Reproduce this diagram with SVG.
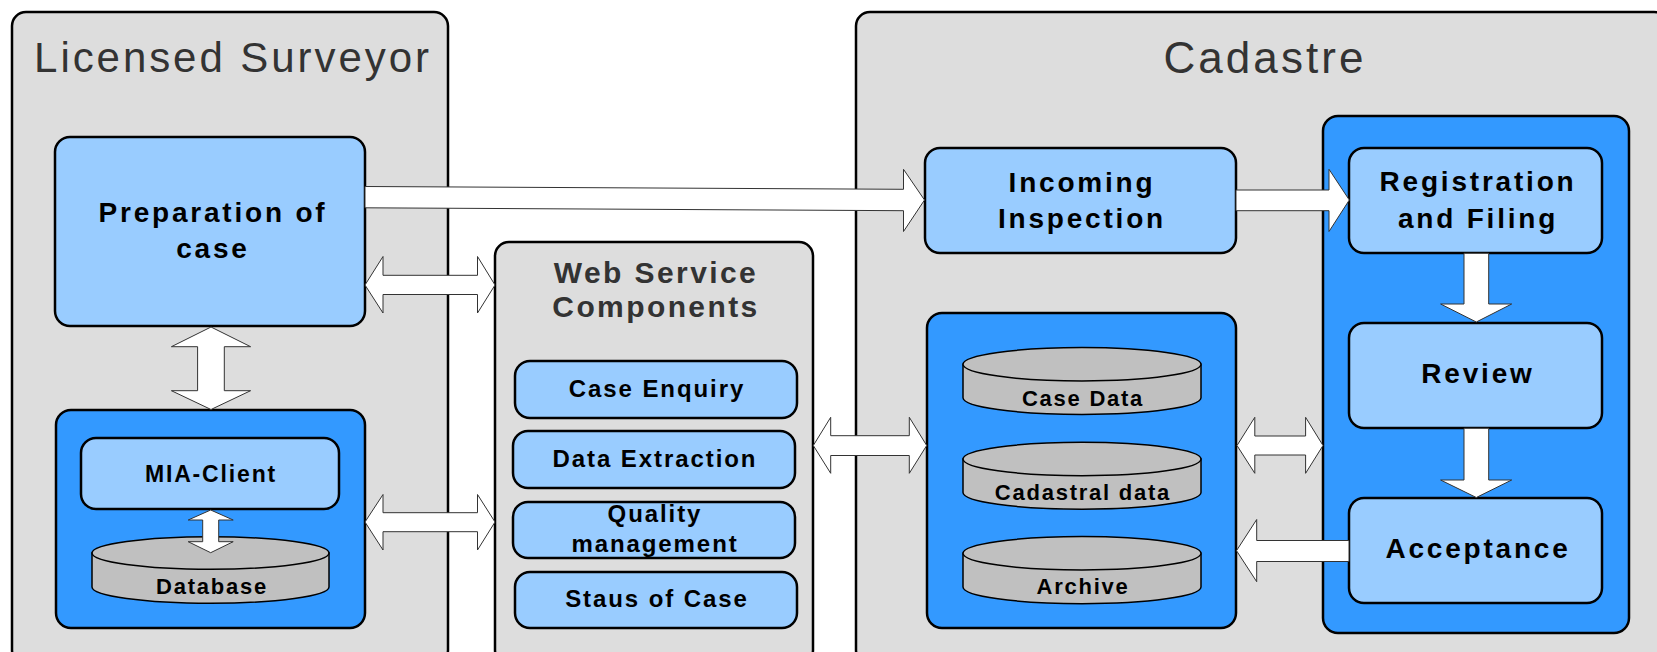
<svg xmlns="http://www.w3.org/2000/svg" width="1657" height="652" viewBox="0 0 1657 652">
<style>
.outer{fill:#dddddd;stroke:#000;stroke-width:2.5}
.grp{fill:#3399ff;stroke:#000;stroke-width:2.5}
.box{fill:#99ccff;stroke:#000;stroke-width:2.5}
.cyl{fill:#c0c0c0;stroke:#000;stroke-width:1.5}
.arr{fill:#fff;stroke:#333;stroke-width:1;stroke-linejoin:miter}
text{font-family:"Liberation Sans",Arial,sans-serif;text-anchor:middle;letter-spacing:0.08em}
.title{font-size:42px;fill:#333;letter-spacing:0.07em}
.sub{font-size:30px;font-weight:bold;fill:#333}
.big{font-size:28px;font-weight:bold;fill:#000;letter-spacing:0.1em}
.mid{font-size:24px;font-weight:bold;fill:#000}
.sm{font-size:22px;font-weight:bold;fill:#000}
</style>
<rect width="1657" height="652" fill="#fff"/>

<g id="licensed-surveyor">
<rect class="outer" x="12" y="12" width="436" height="652" rx="14"/>
<text class="title" x="233" y="72">Licensed Surveyor</text>
</g>
<g id="web-service">
<rect class="outer" x="495" y="242" width="318" height="422" rx="14"/>
<text class="sub" x="656" y="283">Web Service</text>
<text class="sub" x="656" y="317">Components</text>
</g>
<g id="cadastre">
<rect class="outer" x="856" y="12" width="812" height="652" rx="14"/>
<text class="title" style="font-size:44px" x="1265" y="73">Cadastre</text>
</g>

<g id="preparation">
<rect class="box" x="55" y="137" width="310" height="189" rx="15"/>
<text class="big" x="213" y="222">Preparation of</text>
<text class="big" x="213" y="258">case</text>
</g>

<g id="mia-group">
<rect class="grp" x="56" y="410" width="309" height="218" rx="15"/>
</g>
<g id="mia-client">
<rect class="box" x="81" y="438" width="258" height="71" rx="15"/>
<text class="mid" style="font-size:23px" x="211" y="482">MIA-Client</text>
</g>
<g id="database">
<path class="cyl" d="M92,553 L92,587 A118.5,16.3 0 0 0 329,587 L329,553 Z"/>
<ellipse class="cyl" cx="210.5" cy="553" rx="118.5" ry="16.3"/>
<text class="sm" x="212" y="594">Database</text>
</g>

<g id="case-enquiry">
<rect class="box" x="515" y="361" width="282" height="57" rx="15"/>
<text class="mid" x="657" y="397">Case Enquiry</text>
</g>
<g id="data-extraction">
<rect class="box" x="513" y="431" width="282" height="57" rx="15"/>
<text class="mid" x="655" y="467">Data Extraction</text>
</g>
<g id="quality-management">
<rect class="box" x="513" y="502" width="282" height="56" rx="15"/>
<text class="mid" x="655" y="522">Quality</text>
<text class="mid" x="655" y="552">management</text>
</g>
<g id="status-of-case">
<rect class="box" x="515" y="572" width="282" height="56" rx="15"/>
<text class="mid" x="657" y="607">Staus of Case</text>
</g>

<g id="incoming-inspection">
<rect class="box" x="925" y="148" width="311" height="105" rx="15"/>
<text class="big" x="1082" y="192">Incoming</text>
<text class="big" x="1082" y="228">Inspection</text>
</g>

<g id="data-group">
<rect class="grp" x="927" y="313" width="309" height="315" rx="15"/>
</g>
<g id="case-data">
<path class="cyl" d="M963,364.3 L963,397.7 A119,16.7 0 0 0 1201,397.7 L1201,364.3 Z"/>
<ellipse class="cyl" cx="1082" cy="364.3" rx="119" ry="16.7"/>
<text class="sm" x="1083" y="406">Case Data</text>
</g>
<g id="cadastral-data">
<path class="cyl" d="M963,459 L963,492.5 A119,16.7 0 0 0 1201,492.5 L1201,459 Z"/>
<ellipse class="cyl" cx="1082" cy="459" rx="119" ry="16.7"/>
<text class="sm" x="1083" y="499.5">Cadastral data</text>
</g>
<g id="archive">
<path class="cyl" d="M963,553.3 L963,587 A119,16.7 0 0 0 1201,587 L1201,553.3 Z"/>
<ellipse class="cyl" cx="1082" cy="553.3" rx="119" ry="16.7"/>
<text class="sm" x="1083" y="593.5">Archive</text>
</g>

<g id="process-group">
<rect class="grp" x="1323" y="116" width="306" height="517" rx="15"/>
</g>
<g id="registration">
<rect class="box" x="1349" y="148" width="253" height="105" rx="15"/>
<text class="big" x="1478" y="191">Registration</text>
<text class="big" x="1478" y="228">and Filing</text>
</g>
<g id="review">
<rect class="box" x="1349" y="323" width="253" height="105" rx="15"/>
<text class="big" x="1478" y="383">Review</text>
</g>
<g id="acceptance">
<rect class="box" x="1349" y="498" width="253" height="105" rx="15"/>
<text class="big" x="1478" y="558">Acceptance</text>
</g>

<g id="connectors">
<polygon class="arr" points="365,186.5 903.5,189.3 903.5,169.3 924.5,200 903.5,231.5 903.5,210.7 365,207.8"/>
<polygon class="arr" points="365,285 383,256.5 383,275.3 477.5,275.3 477.5,256.5 495,285 477.5,313 477.5,294.5 383,294.5 383,313"/>
<polygon class="arr" points="211,327 250.6,346.7 224.3,346.7 224.3,390.7 250.6,390.7 211,409.5 171.4,390.7 197.6,390.7 197.6,346.7 171.4,346.7"/>
<polygon class="arr" points="210.7,510 233.2,520 218.7,520 218.7,541.7 233.2,541.7 210.7,552.7 188.2,541.7 202.7,541.7 202.7,520 188.2,520"/>
<polygon class="arr" points="365,522 383,494.5 383,512.7 477.5,512.7 477.5,494.5 495,522 477.5,550 477.5,531.7 383,531.7 383,550"/>
<polygon class="arr" points="813.3,445.5 830.7,417.3 830.7,435.7 909.3,435.7 909.3,417.3 926.7,445.5 909.3,473.3 909.3,455.5 830.7,455.5 830.7,473.3"/>
<polygon class="arr" points="1236,190 1329,190 1329,169.3 1349.3,200 1329,231.5 1329,210.7 1236,210.7"/>
<polygon class="arr" points="1464,253.3 1488.7,253.3 1488.7,304 1511.7,304 1476.3,322 1440.6,304 1464,304"/>
<polygon class="arr" points="1464,428.3 1488.7,428.3 1488.7,480 1511.7,480 1476.3,497.5 1440.6,480 1464,480"/>
<polygon class="arr" points="1349,540.5 1256.7,540.5 1256.7,519.5 1236.5,550.7 1256.7,581.7 1256.7,561.5 1349,561.5"/>
<polygon class="arr" points="1237,445.5 1254.8,417.3 1254.8,436 1305.6,436 1305.6,417.3 1323,445.5 1305.6,473.3 1305.6,455 1254.8,455 1254.8,473.3"/>
</g>
</svg>
